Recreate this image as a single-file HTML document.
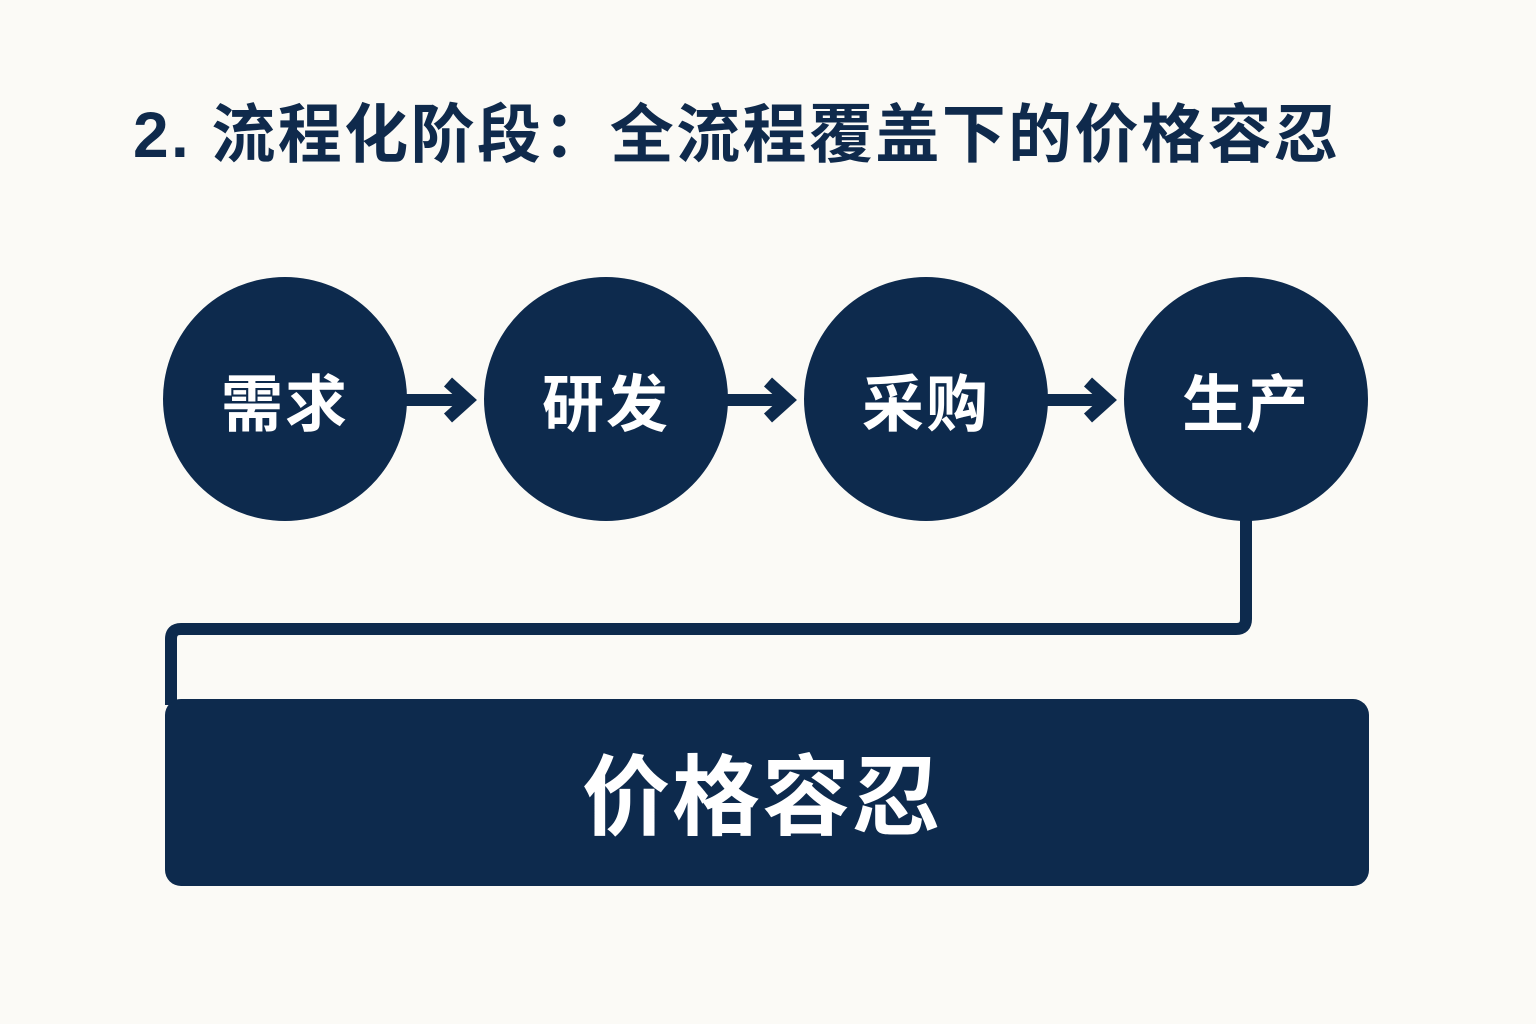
<!DOCTYPE html>
<html><head><meta charset="utf-8"><style>
body{margin:0;background:#fbfaf6;width:1536px;height:1024px;overflow:hidden;position:relative;font-family:"Liberation Sans","Noto Sans CJK SC",sans-serif}
.t{position:absolute;left:133px;top:84px;font-size:64px;font-weight:bold;color:#0f2a4c;white-space:nowrap;letter-spacing:2.4px}
.c{position:absolute;width:244px;height:244px;border-radius:50%;background:#0d2a4d;top:277px;color:#fff;font-size:62px;font-weight:bold;display:flex;align-items:center;justify-content:center;letter-spacing:2px}
.box{position:absolute;left:165px;top:699px;width:1204px;height:187px;background:#0d2a4d;border-radius:16px;color:#fff;font-size:88px;font-weight:bold;display:flex;align-items:center;justify-content:center;letter-spacing:2px;box-sizing:border-box;padding-bottom:4px;padding-right:10px}
</style></head><body>
<div class="t">2. 流程化阶段：全流程覆盖下的价格容忍</div>
<svg width="1536" height="1024" style="position:absolute;left:0;top:0">
<g stroke="#0d2a4d" stroke-width="12" fill="none">
<path d="M405 400H468M448 382L468 400L448 418"/>
<path d="M725 400H788M768 382L788 400L768 418"/>
<path d="M1045 400H1108M1088 382L1108 400L1088 418"/>
<path d="M1246 500V619Q1246 629 1236 629H181Q171 629 171 639V705"/>
</g></svg>
<div class="c" style="left:163px">需求</div>
<div class="c" style="left:484px">研发</div>
<div class="c" style="left:804px">采购</div>
<div class="c" style="left:1124px">生产</div>
<div class="box">价格容忍</div>
</body></html>
